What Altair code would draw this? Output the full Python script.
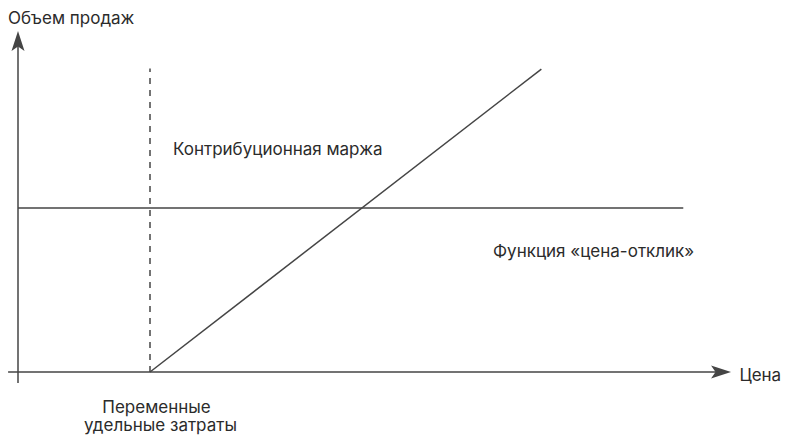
import altair as alt
import pandas as pd

# ---- data (chart units: price on x, sales volume on y) ----
seg_names = ["x-axis", "y-axis", "demand", "margin"]
seg_x1 = [-0.15, 0.0, 0.0, 2.0]
seg_y1 = [0.0, -0.33, 4.97, 0.0]
seg_x2 = [10.67, 0.0, 10.08, 7.93]
seg_y2 = [0.0, 10.06, 4.97, 9.18]

dash_x1 = [2.0]
dash_y1 = [0.0]
dash_y2 = [9.2]

arrow_names = ["up", "right"]
arrow_x = [0.0, 10.652]
arrow_y = [10.03, 0.0]

left_labels = ["Объем продаж", "Контрибуционная маржа", "Функция «цена-отклик»", "Цена"]
left_x = [-0.1515, 2.348, 7.197, 10.93]
left_y = [10.56, 6.576, 3.5, -0.282]

center_labels = ["Переменные", "удельные затраты"]
center_x = [2.098, 2.159]
center_y = [-1.233, -1.797]

W, H = 774, 428
X_DOMAIN = [-10 / 66, (W - 10) / 66]
Y_DOMAIN = [(364 - H) / 33, 364 / 33]

LINE = "#454545"
TEXT = "#2b2b2b"
FONT = "Inter"
FS = 17

xs = alt.Scale(domain=X_DOMAIN, nice=False, zero=False)
ys = alt.Scale(domain=Y_DOMAIN, nice=False, zero=False)

segs = pd.DataFrame({"seg": seg_names, "x": seg_x1, "y": seg_y1, "x2": seg_x2, "y2": seg_y2})
dash = pd.DataFrame({"x": dash_x1, "y": dash_y1, "y2": dash_y2})
arrows = pd.DataFrame({"name": arrow_names, "x": arrow_x, "y": arrow_y})
ltxt = pd.DataFrame({"t": left_labels, "x": left_x, "y": left_y})
ctxt = pd.DataFrame({"t": center_labels, "x": center_x, "y": center_y})

rules = alt.Chart(segs).mark_rule(color=LINE, strokeWidth=1.5).encode(
    x=alt.X("x:Q", scale=xs, axis=None),
    y=alt.Y("y:Q", scale=ys, axis=None),
    x2="x2:Q",
    y2="y2:Q",
)

dashed = alt.Chart(dash).mark_rule(color=LINE, strokeWidth=1.5, strokeDash=[6, 6]).encode(
    x=alt.X("x:Q", scale=xs, axis=None),
    y=alt.Y("y:Q", scale=ys, axis=None),
    y2="y2:Q",
)

up = alt.Chart(arrows[arrows["name"] == "up"]).mark_point(
    shape="M0,-1L0.65,1L0,0.55L-0.65,1Z", size=400, filled=True, color=LINE, opacity=1
).encode(x=alt.X("x:Q", scale=xs, axis=None), y=alt.Y("y:Q", scale=ys, axis=None))

right = alt.Chart(arrows[arrows["name"] == "right"]).mark_point(
    shape="M1,0L-1,0.65L-0.55,0L-1,-0.65Z", size=400, filled=True, color=LINE, opacity=1
).encode(x=alt.X("x:Q", scale=xs, axis=None), y=alt.Y("y:Q", scale=ys, axis=None))

lt = alt.Chart(ltxt).mark_text(
    align="left", baseline="alphabetic", font=FONT, fontSize=FS, color=TEXT
).encode(x=alt.X("x:Q", scale=xs, axis=None), y=alt.Y("y:Q", scale=ys, axis=None), text="t:N")

ct = alt.Chart(ctxt).mark_text(
    align="center", baseline="alphabetic", font=FONT, fontSize=FS, color=TEXT
).encode(x=alt.X("x:Q", scale=xs, axis=None), y=alt.Y("y:Q", scale=ys, axis=None), text="t:N")

chart = (
    alt.layer(rules, dashed, up, right, lt, ct)
    .properties(width=W, height=H, padding=0, autosize=alt.AutoSizeParams(type="none"), background="white")
    .configure_view(stroke=None)
)

chart.save("out.html", embed_options={"renderer": "svg", "actions": False})
